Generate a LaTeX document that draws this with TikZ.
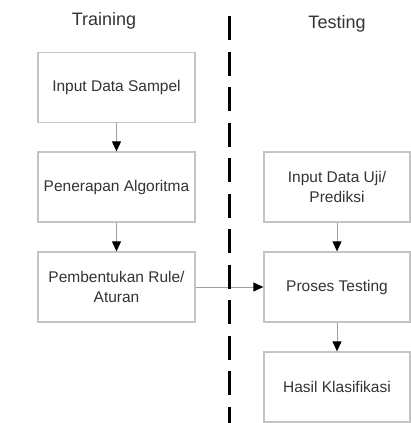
\documentclass[tikz,border=0pt]{standalone}
\usepackage{fontspec}
\setmainfont{Liberation Sans}
\usetikzlibrary{arrows.meta,positioning}
\definecolor{boxgray}{HTML}{C4C4C4}
\definecolor{txtgray}{HTML}{333333}
\begin{document}
\begin{tikzpicture}[x=1pt, y=-1pt, font=\fontsize{15.5}{19.5}\selectfont,
  stepbox/.style={draw=boxgray, line width=1.3pt, text=txtgray, align=center, minimum height=70pt, inner sep=2pt},
  flow/.style={draw=gray!75, line width=1pt, -{Triangle[length=10pt,width=9pt,black]}}]
\useasboundingbox (0,0) rectangle (411,423);
%titles
\node[anchor=base, font=\fontsize{18}{21}\selectfont, text=txtgray] (train) at (104,25) {Training};
\node[anchor=base, font=\fontsize{18}{21}\selectfont, text=txtgray] (test) at (337,28) {Testing};
%training boxes
\node[stepbox, minimum width=157pt] (sampel) at (116.5,87.5) {Input Data Sampel};
\node[stepbox, minimum width=157pt] (algo) at (116.5,187) {Penerapan Algoritma};
\node[stepbox, minimum width=157pt] (rule) at (116.5,287) {Pembentukan Rule/\\Aturan};
%testing boxes
\node[stepbox, minimum width=146pt] (uji) at (337,187) {Input Data Uji/\\Prediksi};
\node[stepbox, minimum width=146pt] (proses) at (337,287) {Proses Testing};
\node[stepbox, minimum width=146pt] (hasil) at (337,387) {Hasil Klasifikasi};
%arrows
\draw[flow] (sampel) -- (algo);
\draw[flow] (algo) -- (rule);
\draw[flow] (rule) -- (proses);
\draw[flow] (uji) -- (proses);
\draw[flow] (proses) -- (hasil);
%separator
\draw[line width=3pt, dash pattern=on 24pt off 11.5pt] (229,16) -- (229,423);
\end{tikzpicture}
\end{document}
